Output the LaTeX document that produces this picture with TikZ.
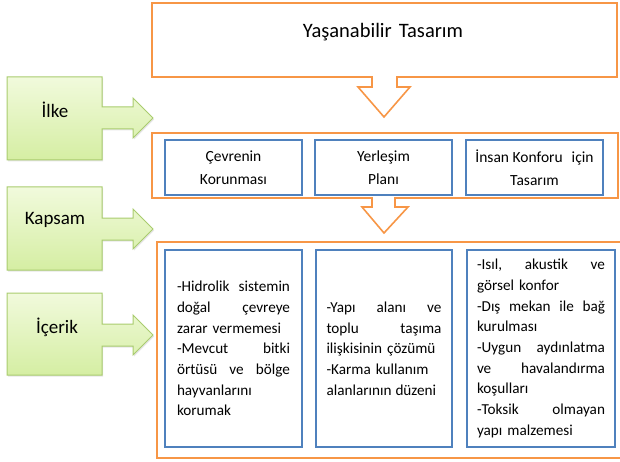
\documentclass[tikz,border=0pt]{standalone}
\usepackage{fontspec}
\setmainfont{Carlito}
\usetikzlibrary{calc,shadows}
\definecolor{ofborange}{HTML}{F79646}
\definecolor{ofbblue}{HTML}{4F81BD}
\definecolor{ofbgreen}{HTML}{A9CC6E}
\definecolor{ofbgreentop}{HTML}{F1FADC}
\definecolor{ofbgreenbot}{HTML}{D5EEA3}
\tikzset{
  orangebox/.style={draw=ofborange, line width=1.6pt, line join=miter},
  bluebox/.style={draw=ofbblue, line width=1.6pt, align=center},
  greenbox/.style={draw=ofbgreen, line width=1pt, top color=ofbgreentop, bottom color=ofbgreenbot,
    drop shadow={opacity=0.2, shadow xshift=1pt, shadow yshift=-1.5pt}},
  greenlabel/.style={font=\fontsize{19}{23}\selectfont},
  bodytext/.style={bluebox, align=left, font=\fontsize{15.2}{20.7}\selectfont, minimum height=197pt},
}
% a justified line: width, then words parted by \hfill
\newcommand{\jl}[2]{\leavevmode\hbox to #1{#2}}

\begin{document}
\begin{tikzpicture}[x=1pt,y=-1pt]
        \useasboundingbox (0,0) rectangle (620,462);
        \newcommand{\lblleft}{7}
        \newcommand{\lblright}{102}
        \newcommand{\lblheadx}{133}
        \newcommand{\lbltipx}{153}
        \newcommand{\lblstem}{11}
        \newcommand{\lblhead}{20}
        \newcommand{\stemleft}{372}
        \newcommand{\arrowtipx}{384}
        \newcommand{\hidrow}{113pt}
        \newcommand{\yapiw}{115pt}
        \newcommand{\isilw}{128pt}
        % green labels with their arrows
        \draw[greenbox] (\lblleft,77) -- (\lblright,77) -- (\lblright,118-\lblstem) -- (\lblheadx,118-\lblstem) -- (\lblheadx,118-\lblhead) -- (\lbltipx,118) -- (\lblheadx,118+\lblhead) -- (\lblheadx,118+\lblstem) -- (\lblright,118+\lblstem) -- (\lblright,160) -- (\lblleft,160) -- cycle;
        \draw[greenbox] (\lblleft,187) -- (\lblright,187) -- (\lblright,229-\lblstem) -- (\lblheadx,229-\lblstem) -- (\lblheadx,229-\lblhead) -- (\lbltipx,229) -- (\lblheadx,229+\lblhead) -- (\lblheadx,229+\lblstem) -- (\lblright,229+\lblstem) -- (\lblright,270) -- (\lblleft,270) -- cycle;
        \draw[greenbox] (\lblleft,293) -- (\lblright,293) -- (\lblright,335-\lblstem) -- (\lblheadx,335-\lblstem) -- (\lblheadx,335-\lblhead) -- (\lbltipx,335) -- (\lblheadx,335+\lblhead) -- (\lblheadx,335+\lblstem) -- (\lblright,335+\lblstem) -- (\lblright,375) -- (\lblleft,375) -- cycle;
        \node[greenlabel] (ilke) at (55,110) {İlke};
        \node[greenlabel] (kapsam) at (55,220) {Kapsam};
        \node[greenlabel] (icerik) at (57,327) {İçerik};
        % orange frames with their down arrows
        \draw[orangebox] (152,3) -- (617,3) -- (617,77) -- (397,77) -- (397,87) -- (410,87) -- (\arrowtipx,117) -- (358,87) -- (\stemleft,87) -- (\stemleft,77) -- (152,77) -- cycle;
        \draw[orangebox] (152,133) -- (618,133) -- (618,198) -- (395,198) -- (395,207) -- (408,207) -- (\arrowtipx,233) -- (362,207) -- (\stemleft,207) -- (\stemleft,198) -- (152,198) -- cycle;
        \draw[orangebox] (157,242) rectangle (623,458);
        \node[font=\fontsize{20.5}{24}\selectfont] (title) at (383,32) {Yaşanabilir\hspace{7pt}Tasarım};
        % principles
        \node[bluebox, minimum width=137pt, minimum height=55pt, font=\fontsize{15.5}{23.5}\selectfont] (cevre) at (233.5,167.5) {Çevrenin\\Korunması};
        \node[bluebox, minimum width=137pt, minimum height=55pt, font=\fontsize{15.5}{23.5}\selectfont] (yerlesim) at (383.5,167.5) {Yerleşim\\Planı};
        \node[bluebox, minimum width=137pt, minimum height=55pt, font=\fontsize{15.5}{23.5}\selectfont] (konfor) at (534.5,167.5) {İnsan Konforu\hspace{9pt}için\\Tasarım};
        % contents
        \node[bodytext, text width=\hidrow, inner xsep=12pt] (hidro) at (233.5,348.5) {\jl{\hidrow}{-Hidrolik\hfill sistemin}\\ \jl{\hidrow}{doğal\hfill çevreye}\\ zarar vermemesi\\ \jl{\hidrow}{-Mevcut\hfill bitki}\\ \jl{\hidrow}{örtüsü\hfill ve\hfill bölge}\\ hayvanlarını\\ korumak};
        \node[bodytext, text width=\yapiw, inner xsep=10.5pt] (yapi) at (384,348.5) {\jl{\yapiw}{-Yapı\hfill alanı\hfill ve}\\ \jl{\yapiw}{toplu\hfill taşıma}\\ ilişkisinin çözümü\\ -Karma kullanım\\ alanlarının\hspace{4pt}düzeni};
        \node[bodytext, text width=\isilw, inner xsep=10pt] (isil) at (541,348.5) {\jl{\isilw}{-Isıl,\hfill akustik\hfill ve}\\ görsel konfor\\ \jl{\isilw}{-Dış\hfill mekan\hfill ile\hfill bağ}\\ kurulması\\ \jl{\isilw}{-Uygun\hfill aydınlatma}\\ \jl{\isilw}{ve\hfill havalandırma}\\ koşulları\\ \jl{\isilw}{-Toksik\hfill olmayan}\\ yapı malzemesi};
    \end{tikzpicture}
\end{document}
